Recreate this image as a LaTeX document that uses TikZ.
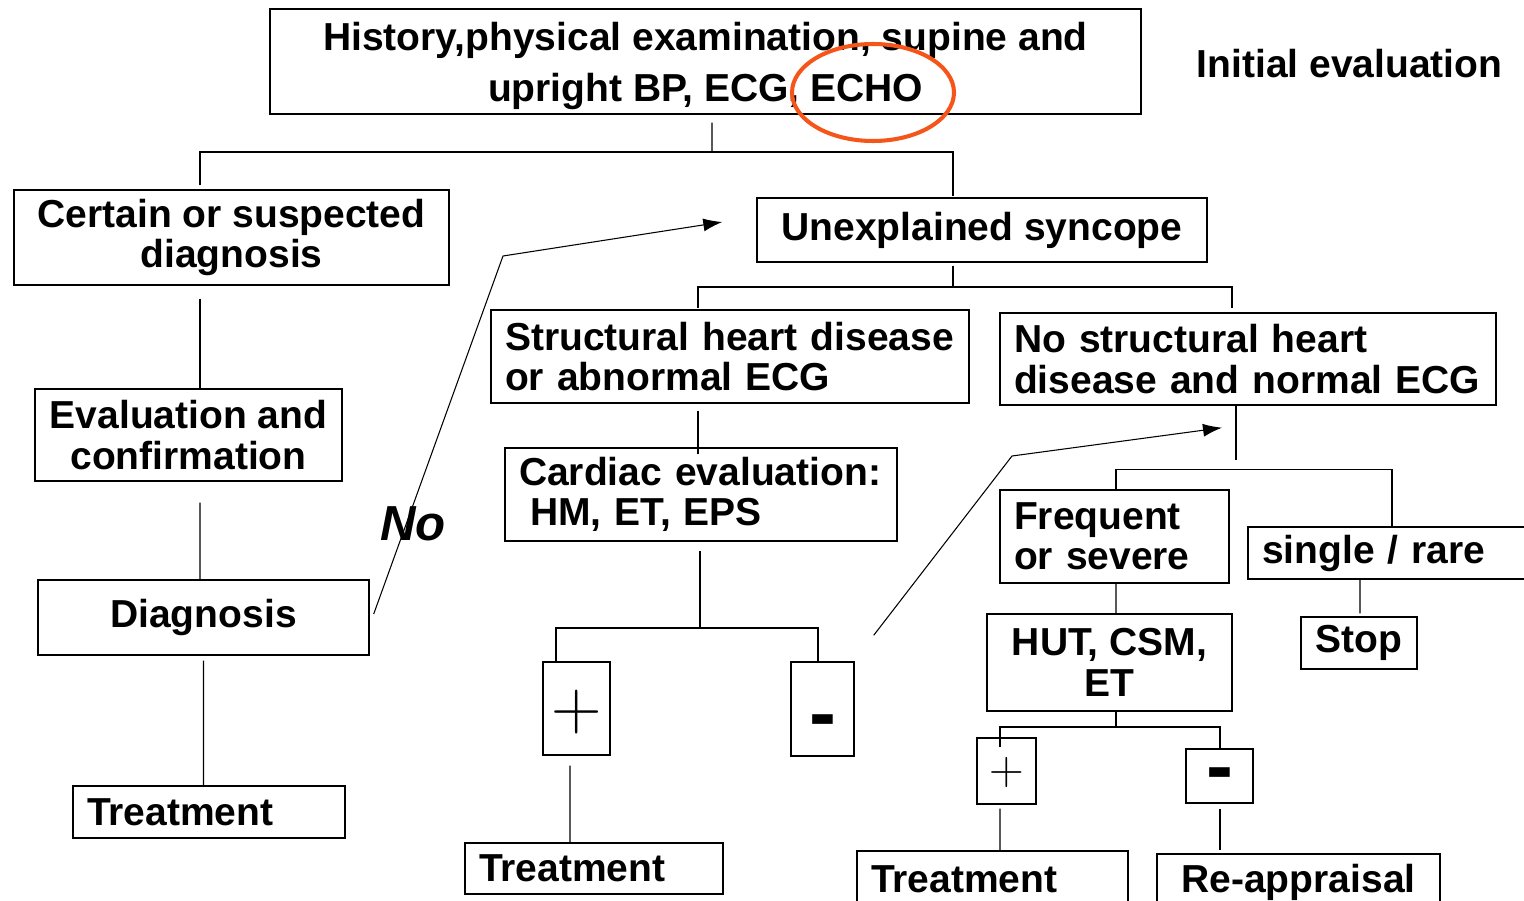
\documentclass[tikz,border=0pt]{standalone}
\usepackage{fontspec}
\setmainfont{Liberation Sans}
\usepackage{graphicx}
\usepackage{xcolor}
\usetikzlibrary{arrows.meta}
\definecolor{echored}{RGB}{245,85,25}

\begin{document}
\begin{tikzpicture}[
  box/.style={draw, line width=0.8pt, align=center, font=\fontsize{22.2}{23}\selectfont\bfseries},
  lbox/.style={box, align=left, inner xsep=0.28cm},
  link/.style={line width=0.6pt},
  jump/.style={line width=0.6pt, -{Latex[length=0.38cm,width=0.26cm]}},
  plussign/.style={font=\fontsize{24}{24}\selectfont},
  minussign/.style={font=\fontsize{46}{46}\selectfont\bfseries}
]
  \useasboundingbox (0,0) rectangle (30.48,-18.02);

  % Initial evaluation
  \node[box, minimum width=17.42cm, minimum height=2.10cm, inner ysep=0.05cm, font=\fontsize{22.2}{29}\selectfont\bfseries] (hist) at (14.11,-1.23) {\rule{0pt}{0.76cm}History,physical examination, supine and\\upright BP, ECG, ECHO};
  \node[font=\fontsize{22.2}{23}\selectfont\bfseries] (stage) at (26.99,-1.28) {Initial evaluation};
  \draw[echored, line width=2.3pt] (17.46,-1.85) ellipse (1.62cm and 0.97cm);

  % Left branch
  \node[box, minimum width=8.70cm, minimum height=1.90cm] (certain) at (4.63,-4.75) {Certain or suspected\\diagnosis};
  \node[box, minimum width=6.14cm, minimum height=1.84cm] (evalconf) at (3.77,-8.70) {Evaluation and\\confirmation};
  \node[box, minimum width=6.62cm, minimum height=1.50cm] (diag) at (4.07,-12.35) {Diagnosis};
  \node[lbox, text width=4.88cm, minimum height=1.04cm] (treatA) at (4.18,-16.24) {Treatment};
  \node[font=\fontsize{28}{28}\selectfont\bfseries\itshape] (no) at (8.26,-10.48) {No};

  % Unexplained syncope
  \node[box, minimum width=9.00cm, minimum height=1.28cm] (unexpl) at (19.64,-4.60) {Unexplained syncope};
  \node[lbox, text width=9.00cm, minimum height=1.86cm] (struct) at (14.60,-7.13) {Structural heart disease\\or abnormal ECG};
  \node[lbox, text width=9.36cm, minimum height=1.84cm] (nostruct) at (24.96,-7.18) {No structural heart\\disease and normal ECG};

  % Cardiac work-up
  \node[lbox, text width=7.28cm, minimum height=1.86cm] (cardiac) at (14.02,-9.89) {Cardiac evaluation:\\\hspace*{0.22cm}HM, ET, EPS};
  \node[box, minimum width=1.34cm, minimum height=1.86cm] (plusA) at (11.53,-14.17) {};
  \node[box, minimum width=1.26cm, minimum height=1.88cm] (minusA) at (16.45,-14.18) {};
  \node[plussign, anchor=base] (plusAsign) at ([yshift=-0.41cm]plusA.center) {\scalebox{1.6}{$+$}};
  \node[minussign, anchor=base] (minusAsign) at ([yshift=-0.62cm]minusA.center) {-};
  \node[lbox, text width=4.60cm, minimum height=1.02cm] (treatB) at (11.88,-17.37) {Treatment};

  % Neurally mediated work-up
  \node[lbox, text width=4.02cm, minimum height=1.86cm] (freq) at (22.29,-10.73) {Frequent\\or severe};
  \node[lbox, text width=5.28cm, minimum height=1.04cm] (single) at (27.88,-11.06) {single / rare};
  \node[box, minimum width=2.32cm, minimum height=1.04cm] (stop) at (27.18,-12.86) {Stop};
  \node[box, minimum width=4.90cm, minimum height=1.94cm] (hut) at (22.19,-13.25) {HUT, CSM,\\ET};
  \node[box, minimum width=1.18cm, minimum height=1.32cm] (plusB) at (20.13,-15.42) {};
  \node[box, minimum width=1.34cm, minimum height=1.08cm] (minusB) at (24.39,-15.52) {};
  \node[plussign, anchor=base] (plusBsign) at ([yshift=-0.27cm]plusB.center) {\scalebox{1.1}{$+$}};
  \node[minussign, anchor=base] (minusBsign) at ([yshift=-0.34cm]minusB.center) {-};
  \node[lbox, text width=4.86cm, minimum height=1.12cm] (treatC) at (19.85,-17.58) {Treatment};
  \node[box, minimum width=5.66cm, minimum height=1.12cm] (reappr) at (25.97,-17.64) {Re-appraisal};

  % Junctions
  \coordinate (jA) at (14.24,-3.04);
  \coordinate (jB) at (19.06,-5.74);
  \coordinate (jC) at (14.00,-12.56);
  \coordinate (jD) at (24.72,-9.20);
  \coordinate (jF) at (22.32,-14.54);
  \coordinate (bendA) at (10.06,-5.12);
  \coordinate (bendB) at (20.24,-9.12);

  % Connectors
  \draw[link] ([xshift=0.13cm,yshift=-0.16cm]hist.south) -- (jA);
  \draw[link] ([xshift=-0.63cm,yshift=0.08cm]certain.north) |- (jA) -| ([xshift=-0.58cm,yshift=0.02cm]unexpl.north);
  \draw[link] ([xshift=-0.63cm,yshift=-0.26cm]certain.south) -- ([xshift=0.23cm]evalconf.north);
  \draw[link] ([xshift=0.23cm,yshift=-0.42cm]evalconf.south) -- ([xshift=-0.07cm]diag.north);
  \draw[link] ([yshift=-0.1cm]diag.south) -- ([xshift=-0.11cm]treatA.north);

  \draw[link] ([xshift=-0.58cm,yshift=-0.06cm]unexpl.south) -- (jB);
  \draw[link] ([xshift=-0.64cm,yshift=0.02cm]struct.north) |- (jB) -| ([xshift=-0.32cm,yshift=0.08cm]nostruct.north);
  \draw[link] ([xshift=-0.64cm,yshift=-0.14cm]struct.south) -- ([xshift=-0.06cm,yshift=-0.14cm]cardiac.north);

  \draw[link] ([xshift=-0.02cm,yshift=-0.18cm]cardiac.south) -- (jC);
  \draw[link] ([xshift=-0.41cm]plusA.north) |- (jC) -| ([xshift=-0.09cm]minusA.north);
  \draw[link] ([xshift=-0.13cm,yshift=-0.2cm]plusA.south) -- ([xshift=-0.48cm]treatB.north);

  \draw[link] ([xshift=-0.24cm]nostruct.south) -- (jD);
  \draw[link] ([xshift=0.03cm]freq.north) -- ++(0,0.40) -| ([xshift=-0.04cm]single.north);
  \draw[link] ([xshift=0.03cm]freq.south) -- ([xshift=0.13cm]hut.north);
  \draw[link] ([xshift=-0.68cm]single.south) -- ([xshift=0.02cm,yshift=0.06cm]stop.north);
  \draw[link] ([xshift=0.13cm]hut.south) -- (jF);
  \draw[link] ([xshift=-0.13cm,yshift=-0.2cm]plusB.north) |- (jF) -| ([xshift=0.01cm]minusB.north);
  \draw[link] ([xshift=-0.13cm,yshift=-0.08cm]plusB.south) -- ([xshift=0.15cm]treatC.north);
  \draw[link] ([xshift=0.01cm,yshift=-0.1cm]minusB.south) -- ([xshift=-1.57cm,yshift=0.06cm]reappr.north);

  % Back to the unexplained branch
  \draw[jump] ([xshift=0.08cm,yshift=0.07cm]diag.east) -- (bendA) -- ([xshift=-0.68cm,yshift=0.16cm]unexpl.west);
  \draw[jump] ([xshift=0.38cm,yshift=0.52cm]minusA.north east) -- (bendB) -- ([xshift=-0.52cm,yshift=-0.44cm]nostruct.south);
\end{tikzpicture}
\end{document}
